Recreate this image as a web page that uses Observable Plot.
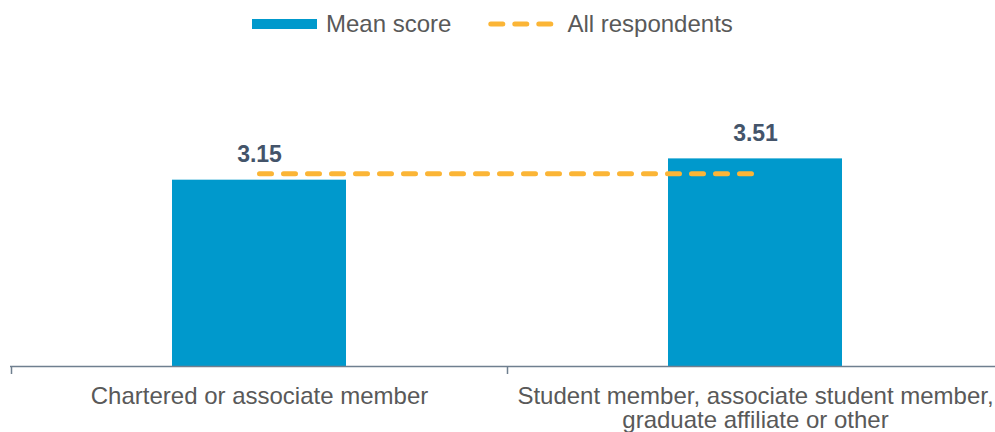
<!DOCTYPE html>
<html>
<head>
<meta charset="utf-8">
<script src="https://cdn.jsdelivr.net/npm/d3@7"></script>
<script src="https://cdn.jsdelivr.net/npm/@observablehq/plot@0.6"></script>
<style>
  body { margin: 0; background: #fff; font-family: "Liberation Sans", Arial, sans-serif; overflow: hidden; }
  #legend { height: 40px; padding-top: 4px; display: flex; align-items: center; padding-left: 252px; font-size: 24px; color: #595959; }
  #legend svg { display: block; }
</style>
</head>
<body>
<div id="legend">
  <svg width="65" height="10"><rect width="65" height="10" fill="#0099CC"></rect></svg>
  <span style="margin-left:9px">Mean score</span>
  <svg style="margin-left:37px" width="66" height="6"><line x1="2.8" x2="62.8" y1="3" y2="3" stroke="#FBB536" stroke-width="5" stroke-linecap="round" stroke-dasharray="12,12"></line></svg>
  <span style="margin-left:13px">All respondents</span>
</div>
<div id="chart"></div>
<script>
// Member groups and their mean scores
const categories = [
  "Chartered or associate member",
  "Student member, associate student member,\ngraduate affiliate or other"
];
const meanScores = [3.15, 3.51];
// Mean score across all respondents
const allRespondents = 3.26;

const data = categories.map((category, i) => ({category, score: meanScores[i]}));

const xRange = [10.5, 1002.5];
const step = (xRange[1] - xRange[0]) / categories.length;
const axisColor = "#6F7F8F";

const chart = Plot.plot({
  width: 995,
  height: 388,
  marginLeft: 10,
  marginRight: 0,
  marginTop: 0,
  marginBottom: 66,
  style: {fontFamily: "'Liberation Sans', Arial, sans-serif", background: "#fff", overflow: "visible"},
  x: {domain: categories, range: xRange, paddingInner: 0.65, paddingOuter: 0.325, align: 0.5},
  y: {domain: [0, 4], range: [322, 85.4], axis: null},
  marks: [
    Plot.barY(data, {x: "category", y: "score", fill: "#0099CC"}),
    Plot.line(categories, {
      x: (d) => d,
      y: () => allRespondents,
      stroke: "#FBB536",
      strokeWidth: 5,
      strokeDasharray: "12,12",
      strokeLinecap: "round"
    }),
    Plot.text(data, {
      x: "category",
      y: "score",
      text: (d) => d.score.toFixed(2),
      lineAnchor: "bottom",
      dy: -18,
      fontSize: 23,
      fontWeight: "bold",
      fill: "#44546A"
    }),
    Plot.ruleY([0], {stroke: axisColor, strokeWidth: 1.5}),
    // tick marks between categories
    Plot.ruleX(categories, {
      x: (d) => d,
      y1: 0,
      y2: 0,
      insetBottom: -8,
      dx: -step / 2,
      stroke: axisColor,
      strokeWidth: 1.5
    }),
    Plot.axisX({
      tickSize: 0,
      tickPadding: 20,
      fontSize: 24,
      fill: "#595959",
      lineHeight: 1,
      label: null
    })
  ]
});

document.getElementById("chart").appendChild(chart);
</script>
</body>
</html>
